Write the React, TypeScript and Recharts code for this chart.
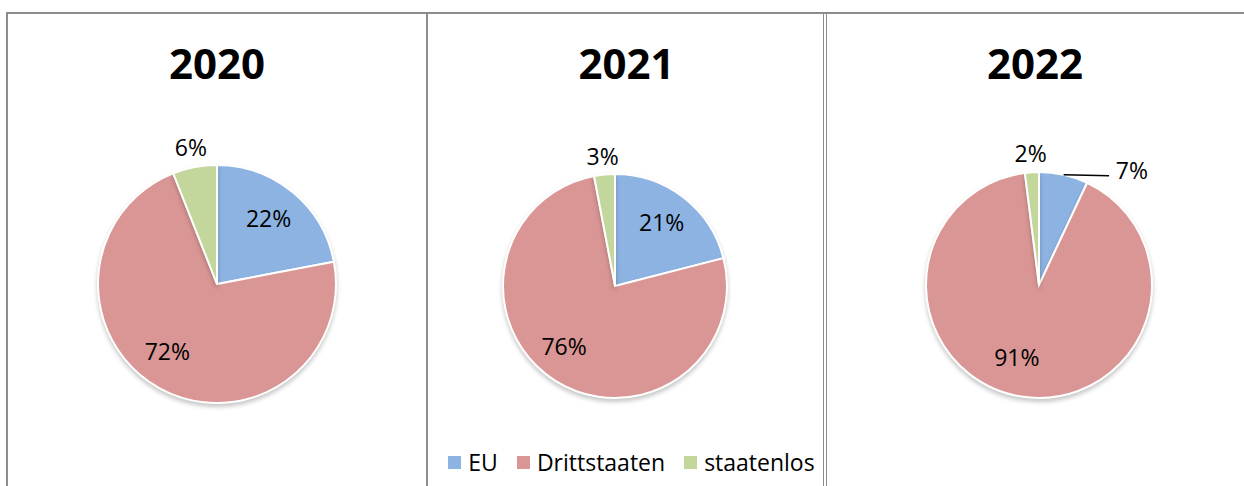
import { PieChart, Pie, Cell, Legend } from "recharts";

const categories = ["EU", "Drittstaaten", "staatenlos"];
const years = ["2020", "2021", "2022"];
const share2020 = [22, 72, 6];
const share2021 = [21, 76, 3];
const share2022 = [7, 91, 2];

const COLORS = ["#8DB3E2", "#D99694", "#C3D69B"];
const FONT = "'Open Sans', 'Liberation Sans', sans-serif";
const RADIAN = Math.PI / 180;

const toRows = (vals: number[]) => categories.map((name, i) => ({ name, value: vals[i] }));

// Excel-ish "best fit": big slices inside, small ones outside (right-hand ones with a leader)
function renderLabel(props: any) {
  const { cx, cy, midAngle, outerRadius, percent, value } = props;
  const cos = Math.cos(-midAngle * RADIAN);
  const sin = Math.sin(-midAngle * RADIAN);
  const text = `${value}%`;
  if (percent >= 0.1) {
    const r = outerRadius * 0.68;
    // big slices sit a bit further left, as Excel does
    const shift = percent > 0.5 ? -outerRadius * 0.09 : 0;
    return (
      <text x={cx + r * cos + shift} y={cy + r * sin - 4} textAnchor="middle" dominantBaseline="central"
        fontSize={23} fontFamily={FONT} fill="#000">
        {text}
      </text>
    );
  }
  if (cos > 0.1) {
    const sx = cx + outerRadius * cos;
    const sy = cy + outerRadius * sin;
    const ex = cx + outerRadius * 0.62;
    return (
      <g>
        <line x1={sx} y1={sy} x2={ex} y2={sy + 1} stroke="#000" strokeWidth={1.5} />
        <text x={cx + outerRadius * 0.68} y={sy - 5} textAnchor="start" dominantBaseline="central"
          fontSize={23} fontFamily={FONT} fill="#000">
          {text}
        </text>
      </g>
    );
  }
  const r = outerRadius * 1.17;
  return (
    <text x={cx + r * cos} y={cy + r * sin} textAnchor="middle" dominantBaseline="central"
      fontSize={23} fontFamily={FONT} fill="#000">
      {text}
    </text>
  );
}

function LegendRow({ payload }: any) {
  const items = [...(payload || [])].sort(
    (a: any, b: any) => categories.indexOf(a.value) - categories.indexOf(b.value)
  );
  return (
    <div style={{ display: "flex", justifyContent: "center", alignItems: "center", fontFamily: FONT, fontSize: 23 }}>
      {items.map((p: any, i: number) => (
        <div key={i} style={{ display: "flex", alignItems: "center", marginLeft: i === 0 ? 0 : 19 }}>
          <span style={{ display: "inline-block", width: 13, height: 13, background: p.color, marginRight: 7 }} />
          <span style={{ color: "#000", lineHeight: "28px" }}>{p.value}</span>
        </div>
      ))}
    </div>
  );
}

interface PanelProps {
  title: string;
  vals: number[];
  left: number;
  width: number;
  cx: number;
  cy: number;
  r: number;
  legend?: boolean;
}

function Panel({ title, vals, left, width, cx, cy, r, legend }: PanelProps) {
  return (
    <div style={{ position: "absolute", left, top: 13, width, height: 473 }}>
      <div style={{ position: "absolute", left: 0, top: 26, width, textAlign: "center", fontFamily: FONT,
        fontWeight: 700, fontSize: 42, lineHeight: "48px", color: "#000" }}>
        {title}
      </div>
      <PieChart width={width} height={473} margin={{ top: 0, right: 0, bottom: 0, left: 0 }}>
        <Pie data={toRows(vals)} dataKey="value" nameKey="name" cx={cx} cy={cy} outerRadius={r}
          startAngle={90} endAngle={-270} stroke="#fff" strokeWidth={2}
          label={renderLabel} labelLine={false} isAnimationActive={false}>
          {vals.map((_, i) => <Cell key={i} fill={COLORS[i]} />)}
        </Pie>
        {legend && (
          <Legend content={<LegendRow />} wrapperStyle={{ position: "absolute", left: 5, top: 435, width }} />
        )}
      </PieChart>
    </div>
  );
}

export default function App() {
  return (
    <div style={{ position: "absolute", left: 0, top: 0, width: 1244, height: 486, background: "#fff", overflow: "hidden" }}>
      <style>{`.recharts-pie-sector{filter:drop-shadow(0px 3px 2px rgba(0,0,0,0.22));}`}</style>
      {/* table frame */}
      <div style={{ position: "absolute", left: 6, top: 12, width: 1250, height: 500, borderTop: "2px solid #8c8c8c", borderLeft: "2px solid #8c8c8c" }} />
      <div style={{ position: "absolute", left: 426, top: 12, width: 2, height: 480, background: "#8c8c8c" }} />
      <div style={{ position: "absolute", left: 823, top: 12, width: 1, height: 480, background: "#8c8c8c" }} />
      <div style={{ position: "absolute", left: 826, top: 12, width: 1, height: 480, background: "#8c8c8c" }} />
      <Panel title={years[0]} vals={share2020} left={7} width={420} cx={210} cy={271} r={119} />
      <Panel title={years[1]} vals={share2021} left={427} width={399} cx={188} cy={273} r={112} legend />
      <Panel title={years[2]} vals={share2022} left={826} width={418} cx={213} cy={272} r={113} />
    </div>
  );
}
